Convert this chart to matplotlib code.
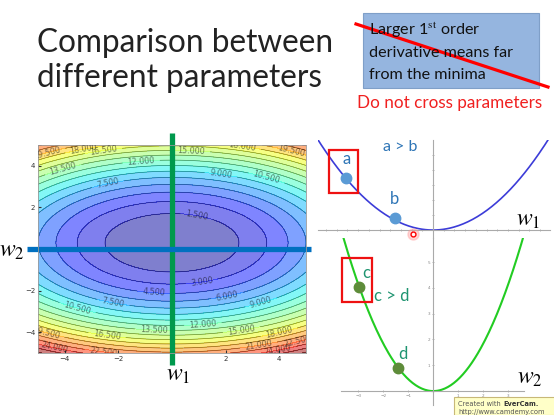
import numpy as np
import matplotlib
matplotlib.use('Agg')  # Non-interactive backend
import matplotlib.pyplot as plt
from matplotlib.patches import Rectangle
from matplotlib.lines import Line2D

plt.rcParams['mathtext.fontset'] = 'stix'

# Slide size in pixels (figure is drawn at 100 dpi)
W, H = 554, 415

# Error surface of the contour plot: z = A*w1^2 + B*(w2 - c)^2
SURF_A = 0.24
SURF_B = 0.76
SURF_W2_CENTER = 0.3
contour_levels = np.arange(0, 28.5, 1.5)
contour_ticks = [-4, -2, 2, 4]

# Upper right plot (cut along w1)
upper_k = 0.052
upper_names = ["a", "b"]
upper_x = [-8.1, -3.6]
upper_y = [3.45, 0.78]

# Lower right plot (cut along w2)
lower_k = 0.46
lower_names = ["c", "d"]
lower_x = [-2.96, -1.42]
lower_y = [4.02, 0.88]
lower_xticks = [-3, -2, -1, 1, 2, 3]
lower_yticks = [1, 2, 3, 4, 5]

title_lines = ["Comparison between", "different parameters"]
box_lines = ["Larger 1$^{\\mathrm{st}}$ order", "derivative means far", "from the minima"]
note_text = "Do not cross parameters"

BLUE_TXT = "#2E75B6"
TEAL_TXT = "#1E9470"


def px_axes(fig, left, top, right, bottom):
    """Add axes placed by pixel box on the slide."""
    return fig.add_axes([left / W, 1 - bottom / H, (right - left) / W, (bottom - top) / H])


def ftext(fig, x, y, s, **kw):
    fig.text(x / W, 1 - y / H, s, **kw)


def fline(fig, xs, ys, **kw):
    fig.add_artist(Line2D([x / W for x in xs], [1 - y / H for y in ys], **kw))


fig = plt.figure(figsize=(W / 100, H / 100), dpi=100)
fig.patch.set_facecolor("white")

# Title
ftext(fig, 37, 52, title_lines[0], fontsize=22.7, family="Lato", color="#222222")
ftext(fig, 37, 87, title_lines[1], fontsize=22.7, family="Lato", color="#222222")

# Crossed-out box and red note
fig.add_artist(Rectangle((363 / W, 1 - 88 / H), 176 / W, 75 / H, transform=fig.transFigure,
                         facecolor="#95B5DF", edgecolor="#7F9FC8", lw=0.8))
for i, line in enumerate(box_lines):
    ftext(fig, 369, 35 + 22 * i, line, fontsize=11.6, family="Lato", color="#111111")
fline(fig, [356, 548], [24, 87], color="red", lw=2.3)
ftext(fig, 450, 108, note_text, fontsize=12.3, family="Lato", color="#F02020", ha="center")

# Contour plot
ax = px_axes(fig, 38, 145, 306, 353)
w1 = np.linspace(-5, 5, 300)
w2 = np.linspace(-5, 5, 300)
X, Y = np.meshgrid(w1, w2)
Z = SURF_A * X ** 2 + SURF_B * (Y - SURF_W2_CENTER) ** 2
ax.contourf(X, Y, Z, levels=contour_levels, cmap="jet", alpha=0.5, extend="max")
cs = ax.contour(X, Y, Z, levels=contour_levels, colors="black", linewidths=0.45, alpha=0.5)
ax.clabel(cs, fmt="%.3f", fontsize=5.8, inline=True)
ax.set_xlim(-5, 5)
ax.set_ylim(-5, 5)
ax.set_xticks(contour_ticks)
ax.set_yticks(contour_ticks)
ax.tick_params(labelsize=5, length=2, direction="in", colors="#333333", pad=2)
for s in ax.spines.values():
    s.set_color("#999999")
    s.set_linewidth(0.6)

# The two cutting lines through the minimum
ax.plot([0, 0], [5.6, -5.6], color="#00994D", lw=3.8, clip_on=False, solid_capstyle="butt")
ax.plot([-5.4, 5.2], [0, 0], color="#0070C0", lw=3.8, clip_on=False, solid_capstyle="butt")
ftext(fig, 12, 250, "$w_2$", fontsize=17, ha="center", va="center")
ftext(fig, 178, 374, "$w_1$", fontsize=17, ha="center", va="center")


def style_cut_axes(a, xticks, yticks, labels):
    for side in ["top", "right"]:
        a.spines[side].set_visible(False)
    for side in ["left", "bottom"]:
        a.spines[side].set_position(("data", 0))
        a.spines[side].set_color("#AAAAAA")
        a.spines[side].set_linewidth(0.8)
    a.set_xticks(xticks)
    a.set_yticks(yticks)
    a.tick_params(length=2, width=0.5, direction="inout", colors="#999999",
                  labelsize=3, labelcolor="#888888", pad=1)
    if not labels:
        a.set_xticklabels([])
        a.set_yticklabels([])
    a.patch.set_alpha(0)


# Upper right: cut along w1
ax_u = px_axes(fig, 318, 140, 550, 238)
xu = np.linspace(-11, 11, 200)
ax_u.plot(xu, upper_k * xu ** 2, color="#3C3CD8", lw=1.2)
ax_u.set_xlim(-10.75, 10.93)
ax_u.set_ylim(-0.53, 6.0)
style_cut_axes(ax_u, [t for t in range(-10, 11) if t != 0], [1, 2, 3, 4, 5], False)
ax_u.plot(upper_x, upper_y, "o", color="#5B9BD5", ms=7.5, zorder=5)
for name, x, y in zip(upper_names, upper_x, upper_y):
    ax_u.annotate(name, (x, y), xytext=(0, 11), textcoords="offset pixels", ha="center",
                  va="bottom", fontsize=12, family="Lato", color=BLUE_TXT)
ftext(fig, 400, 147, "a > b", fontsize=11.5, family="Lato", color=BLUE_TXT, ha="center", va="center")
fig.add_artist(Rectangle((329 / W, 1 - 193 / H), 29 / W, 43 / H, transform=fig.transFigure,
                         facecolor="none", edgecolor="#EE1111", lw=1.6))
ftext(fig, 528, 219, "$w_1$", fontsize=17, ha="center", va="center")

# Lower right: cut along w2
ax_l = px_axes(fig, 341, 238, 524, 405)
xl = np.linspace(-4, 4, 200)
ax_l.plot(xl, lower_k * xl ** 2, color="#22CC22", lw=1.5)
ax_l.set_xlim(-3.69, 3.63)
ax_l.set_ylim(-0.54, 5.93)
style_cut_axes(ax_l, lower_xticks, lower_yticks, True)
ax_l.plot(lower_x, lower_y, "o", color="#5E8C3A", ms=7.5, zorder=5)
ftext(fig, 366, 273, "c", fontsize=12, family="Lato", color=TEAL_TXT, ha="center", va="center")
ftext(fig, 403, 354, "d", fontsize=12, family="Lato", color=TEAL_TXT, ha="center", va="center")
ftext(fig, 392, 296, "c > d", fontsize=12, family="Lato", color=TEAL_TXT, ha="center", va="center")
fig.add_artist(Rectangle((342 / W, 1 - 302 / H), 30 / W, 44 / H, transform=fig.transFigure,
                         facecolor="none", edgecolor="#EE1111", lw=1.6))
ftext(fig, 530, 377, "$w_2$", fontsize=17, ha="center", va="center")

# Mouse cursor mark
fig.add_artist(Line2D([413 / W], [1 - 234 / H], marker="o", ms=8, color="#FF9999", alpha=0.4, lw=0))
fig.add_artist(Line2D([413 / W], [1 - 234 / H], marker="o", ms=3.5, mfc="white", mec="red", mew=1, lw=0))

# Recorder watermark
fig.add_artist(Rectangle((454 / W, 0), 110 / W, 18 / H, transform=fig.transFigure,
                         facecolor="#FFFFC8", edgecolor="#C8B878", lw=0.8))
ftext(fig, 458, 404, "Created with", fontsize=4.8, color="#555555", va="center")
ftext(fig, 503, 404, "EverCam.", fontsize=4.8, color="#333333", weight="bold", va="center")
ftext(fig, 458, 412, "http://www.camdemy.com", fontsize=4.8, color="#555555", va="center")

fig.savefig("out.png", dpi=100)
plt.close(fig)
